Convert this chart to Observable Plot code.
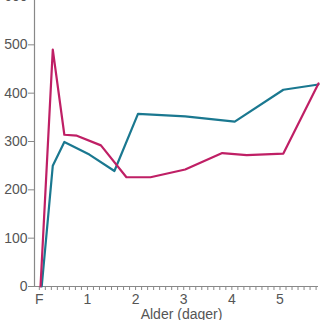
<!DOCTYPE html>
<html>
<head>
<meta charset="utf-8">
<script src="https://cdn.jsdelivr.net/npm/d3@7"></script>
<script src="https://cdn.jsdelivr.net/npm/@observablehq/plot@0.6"></script>
<style>
  html, body { margin: 0; padding: 0; background: #fff; overflow: hidden; }
  #chart svg { display: block; }
</style>
</head>
<body>
<div id="chart"></div>
<script>
// Data
const pinkAge    = [0.025, 0.28, 0.52, 0.78, 1.28, 1.81, 2.31, 3.03, 3.80, 4.31, 5.07, 5.80];
const pinkValue  = [0,     490,  314,  312,  292,  226,  226,  242,  276,  272,  275,  420];
const tealAge    = [0.05, 0.28, 0.52, 1.04, 1.56, 2.05, 3.03, 4.06, 5.07, 5.80];
const tealValue  = [0,    250,  299,  273,  239,  357,  352,  341,  407,  418];

const yTicks = [0, 100, 200, 300, 400, 500, 600];
const xTickValues = [0, 1, 2, 3, 4, 5];
const xTickLabels = ["F", "1", "2", "3", "4", "5"];
const xMinorSteps = 8; // minor ticks per unit
const xMinorCount = 47;
const xTitle = "Alder (dager)";

const pinkColor = "#bf1f65";
const tealColor = "#1a7890";

const pink = pinkAge.map((x, i) => ({x, y: pinkValue[i]}));
const teal = tealAge.map((x, i) => ({x, y: tealValue[i]}));
const minorTicks = d3.range(xMinorCount).map(i => i / xMinorSteps);
const labelFor = new Map(xTickValues.map((v, i) => [v, xTickLabels[i]]));

const chart = Plot.plot({
  width: 320,
  height: 320,
  marginLeft: 34,
  marginRight: 2,
  marginTop: -4,
  marginBottom: 34,
  style: {background: "#fff", fontFamily: "'Liberation Sans', Arial, sans-serif", overflow: "visible"},
  x: {domain: [-0.1, 5.8]},
  y: {domain: [0, 600]},
  marks: [
    Plot.axisY({ticks: yTicks, tickSize: 6, tickPadding: 1, fontSize: 14, stroke: "#888", fill: "#555", label: null}),
    Plot.axisX({ticks: minorTicks, tickSize: 4, tickPadding: 4, fontSize: 14, stroke: "#888", fill: "#555", label: null,
      tickFormat: d => labelFor.has(d) ? labelFor.get(d) : ""}),
    Plot.ruleX([-0.1], {stroke: "#888", strokeWidth: 1.2}),
    Plot.ruleY([0], {stroke: "#888", strokeWidth: 1.2}),
    Plot.line(teal, {x: "x", y: "y", stroke: tealColor, strokeWidth: 2.2}),
    Plot.line(pink, {x: "x", y: "y", stroke: pinkColor, strokeWidth: 2.2}),
    Plot.text([xTitle], {frameAnchor: "bottom", text: d => d, dx: 5, dy: 23, lineAnchor: "top", fontSize: 14, fill: "#555"})
  ]
});
document.getElementById("chart").append(chart);
</script>
</body>
</html>
